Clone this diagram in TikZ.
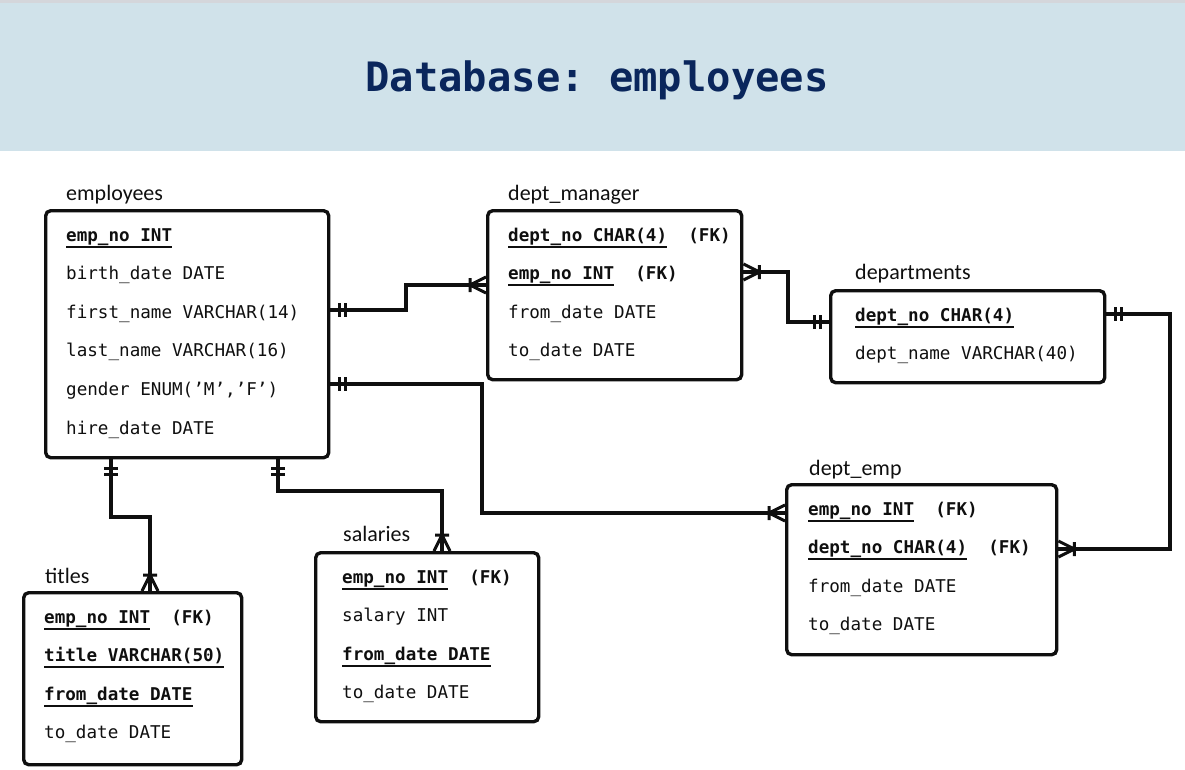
\documentclass[tikz,border=0pt]{standalone}
\usepackage{fontspec}
\setmainfont{Carlito}
\newfontfamily\dbmono{DejaVu Sans Mono}
\usetikzlibrary{calc}
\definecolor{bandblue}{RGB}{208,226,234}
\definecolor{topgray}{RGB}{212,214,219}
\definecolor{titlenavy}{RGB}{10,38,92}
\definecolor{ink}{RGB}{15,15,15}
\newcommand\kul[1]{\setbox0=\hbox{#1}\rlap{\rule[-6.5pt]{\wd0}{2pt}}\box0}
\begin{document}
\frenchspacing
\begin{tikzpicture}[x=1pt,y=-1pt,
  tbl/.style={draw=ink, line width=3.4pt, rounded corners=5pt, anchor=north west, inner sep=0pt},
  row/.style={anchor=base west, inner sep=0pt, font=\dbmono\fontsize{17.6}{20}\selectfont, text=ink},
  lbl/.style={anchor=base west, inner sep=0pt, font=\fontsize{22}{25}\selectfont, text=ink},
  conn/.style={draw=ink, line width=3.2pt},
  mk/.style={draw=ink, line width=3pt},
  pics/twobar/.style={code={\draw[mk] (9,-7)--(9,7) (15,-7)--(15,7);}},
  pics/crowmany/.style={code={\draw[mk] (0,-8)--(16,0)--(0,8) (16,-7)--(16,7);}},
]
\useasboundingbox (0,0) rectangle (1185,769);
\fill[topgray] (0,0) rectangle (1185,3);
\fill[bandblue] (0,3) rectangle (1185,151);
\node[anchor=base, inner sep=0pt, font=\dbmono\bfseries\fontsize{40.5}{44}\selectfont, text=titlenavy] (title) at (597,91) {Database: employees};

% tables
\node[tbl, minimum width=283pt, minimum height=247pt] (emp) at (44,209) {};
\node[tbl, minimum width=254pt, minimum height=169pt] (dm) at (486,209) {};
\node[tbl, minimum width=274pt, minimum height=92pt] (dp) at (829,289) {};
\node[tbl, minimum width=270pt, minimum height=170pt] (de) at (785,483) {};
\node[tbl, minimum width=223pt, minimum height=169pt] (sal) at (314,551) {};
\node[tbl, minimum width=218pt, minimum height=172pt] (tit) at (22,591) {};

% labels
\node[lbl] (lemp) at (66,200) {employees};
\node[lbl] (ldm) at (508,200) {dept\_manager};
\node[lbl] (ldp) at (855,279) {departments};
\node[lbl] (lde) at (809,475) {dept\_emp};
\node[lbl] (lsal) at (343,541) {salaries};
\node[lbl] (ltit) at (45,583) {titles};

% employees rows
\node[row] (e1) at (66,241) {\kul{\bfseries emp\_no INT}};
\node[row] (e2) at (66,279.6) {birth\_date DATE};
\node[row] (e3) at (66,318.2) {first\_name VARCHAR(14)};
\node[row] (e4) at (66,356.8) {last\_name VARCHAR(16)};
\node[row] (e5) at (66,395.4) {gender ENUM(’M’,’F’)};
\node[row] (e6) at (66,434) {hire\_date DATE};

% dept_manager rows
\node[row] (m1) at (508,241) {\kul{\bfseries dept\_no CHAR(4)}{\bfseries\ \ (FK)}};
\node[row] (m2) at (508,279.6) {\kul{\bfseries emp\_no INT}{\bfseries\ \ (FK)}};
\node[row] (m3) at (508,318.2) {from\_date DATE};
\node[row] (m4) at (508,356.8) {to\_date DATE};

% departments rows
\node[row] (d1) at (855,321) {\kul{\bfseries dept\_no CHAR(4)}};
\node[row] (d2) at (855,359.6) {dept\_name VARCHAR(40)};

% dept_emp rows
\node[row] (r1) at (808,515) {\kul{\bfseries emp\_no INT}{\bfseries\ \ (FK)}};
\node[row] (r2) at (808,553.6) {\kul{\bfseries dept\_no CHAR(4)}{\bfseries\ \ (FK)}};
\node[row] (r3) at (808,592.2) {from\_date DATE};
\node[row] (r4) at (808,630.8) {to\_date DATE};

% salaries rows
\node[row] (s1) at (342,583) {\kul{\bfseries emp\_no INT}{\bfseries\ \ (FK)}};
\node[row] (s2) at (342,621.6) {salary INT};
\node[row] (s3) at (342,660.2) {\kul{\bfseries from\_date DATE}};
\node[row] (s4) at (342,698.8) {to\_date DATE};

% titles rows
\node[row] (t1) at (44,623) {\kul{\bfseries emp\_no INT}{\bfseries\ \ (FK)}};
\node[row] (t2) at (44,661.6) {\kul{\bfseries title VARCHAR(50)}};
\node[row] (t3) at (44,700.2) {\kul{\bfseries from\_date DATE}};
\node[row] (t4) at (44,738.8) {to\_date DATE};

% connectors
\draw[conn] (emp.east |- 0,310) -- (406,310) |- (dm.west |- 0,285);
\pic at (emp.east |- 0,310) {twobar};
\pic[rotate=180] at (dm.west |- 0,285) {crowmany};

\draw[conn] (dm.east |- 0,272) -- (788,272) |- (dp.west |- 0,322);
\pic at (dm.east |- 0,272) {crowmany};
\pic[rotate=180] at (dp.west |- 0,322) {twobar};

\draw[conn] (dp.east |- 0,314) -- (1170,314) |- (de.east |- 0,549);
\pic at (dp.east |- 0,314) {twobar};
\pic at (de.east |- 0,549) {crowmany};

\draw[conn] (emp.east |- 0,384) -- (482,384) |- (de.west |- 0,513);
\pic at (emp.east |- 0,384) {twobar};
\pic[rotate=180] at (de.west |- 0,513) {crowmany};

\draw[conn] (emp.south -| 111,0) -- (111,517) -| (tit.north -| 150,0);
\pic[rotate=-90] at (emp.south -| 111,0) {twobar};
\pic[rotate=90] at (tit.north -| 150,0) {crowmany};

\draw[conn] (emp.south -| 278,0) -- (278,491) -| (sal.north -| 442,0);
\pic[rotate=-90] at (emp.south -| 278,0) {twobar};
\pic[rotate=90] at (sal.north -| 442,0) {crowmany};
\end{tikzpicture}
\end{document}
